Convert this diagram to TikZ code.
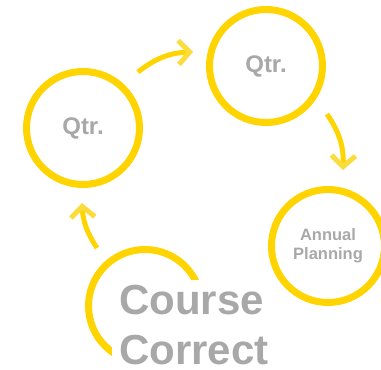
\documentclass[tikz,border=0pt]{standalone}
\usepackage{fontspec}
\setmainfont{Liberation Sans}
\usetikzlibrary{arrows.meta}
\definecolor{ylw}{RGB}{255,212,0}
\definecolor{ylwhead}{RGB}{250,220,60}
\definecolor{txtgray}{RGB}{168,168,168}
\tikzset{
  ring/.style={circle, draw=ylw, line width=7pt, minimum size=113pt, inner sep=0pt, text=txtgray, font=\bfseries},
  flow/.style={draw=ylw, line width=5pt, -{Straight Barb[length=11pt, width=24pt, color=ylwhead]}},
  bigtxt/.style={text=txtgray, font=\fontsize{42}{50}\selectfont\bfseries, inner sep=0pt, anchor=base west}
}
\begin{document}
\begin{tikzpicture}[x=1pt,y=1pt]
\useasboundingbox (0,0) rectangle (381,370);
% course correct ring, partly hidden by text box
\node[ring] (cc) at (145,64) {};
\fill[white] (112,0) rectangle (300,90);
\node[bigtxt] (cc1) at (119,55) {Course};
\node[bigtxt] (cc2) at (119,5) {Correct};
% quarter rings
\node[ring, font=\fontsize{24}{28}\selectfont\bfseries] (q1) at (83,242) {Qtr.};
\node[ring, font=\fontsize{24}{28}\selectfont\bfseries] (q2) at (266,304) {Qtr.};
\node[ring, align=center, font=\fontsize{16.5}{18.5}\selectfont\bfseries] (ap) at (328,124) {Annual\\Planning};
% connector end points
\coordinate (a1s) at (138,298);
\coordinate (a1e) at (193,318);
\coordinate (a2s) at (327,256);
\coordinate (a2e) at (343,200);
\coordinate (a3s) at (97,122);
\coordinate (a3e) at (82,167);
\draw[flow] (a1s) to[bend left=18] (a1e);
\draw[flow] (a2s) to[bend left=18] (a2e);
\draw[flow] (a3s) to[bend left=15] (a3e);
\end{tikzpicture}
\end{document}
